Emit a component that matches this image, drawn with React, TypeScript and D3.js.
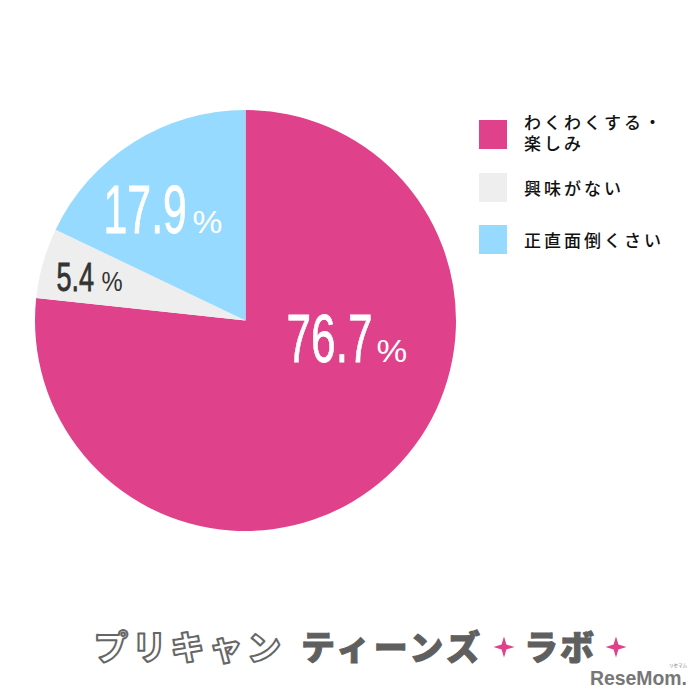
import React from 'react';
import * as d3 from 'd3';

const categories = ['わくわくする・楽しみ', '興味がない', '正直面倒くさい'];
const values = [76.7, 5.4, 17.9];
const colors = ['#e0418b', '#eeeeee', '#96dbff'];
const labelColors = ['#ffffff', '#333333', '#ffffff'];
const legendLines = [['わくわくする・', '楽しみ'], ['興味がない'], ['正直面倒くさい']];

const cx = 245.5;
const cy = 320.5;
const radius = 210.5;

const jpFont = '"Noto Sans CJK JP", sans-serif';
const numFont = '"Liberation Sans", sans-serif';

const starRadii = [10.5, 3.4, 10.5, 3.4, 10.5, 3.4, 10.5, 3.4];

// where each percentage sits, relative to the pie centre (sx = horizontal squeeze)
const labelPos = [
  { x: 41, y: 41.5, size: 68, sx: 0.65, px: 131, ps: 32, psx: 1.08 },
  { x: -189, y: -29.5, size: 41, sx: 0.66, px: -144, ps: 27, psx: 0.88 },
  { x: -142, y: -87.5, size: 68, sx: 0.63, px: -53, ps: 32, psx: 1.05 },
];

const App: React.FC = () => {
  const pie = d3.pie<number>().sort(null)(values);
  const arc = d3.arc<d3.PieArcDatum<number>>().innerRadius(0).outerRadius(radius);
  const star = d3.lineRadial<number>()
    .angle((_, i) => (i * Math.PI) / 4)
    .radius(d => d)
    .curve(d3.curveLinearClosed)(starRadii) as string;

  return (
    <svg width={700} height={700} style={{ position: 'absolute', left: 0, top: 0, background: '#fff' }}>
      <g transform={`translate(${cx},${cy})`}>
        {pie.map((d, i) => (
          <path key={categories[i]} d={arc(d) as string} fill={colors[i]} />
        ))}
        {values.map((v, i) => {
          const p = labelPos[i];
          return (
            <g key={v} fill={labelColors[i]} fontFamily={numFont}>
              <text transform={`translate(${p.x},${p.y}) scale(${p.sx},1)`} fontSize={p.size} stroke={labelColors[i]} strokeWidth={0.8}>{v.toFixed(1)}</text>
              <text transform={`translate(${p.px},${p.y}) scale(${p.psx},1)`} fontSize={p.ps}>%</text>
            </g>
          );
        })}
      </g>

      <g fontFamily={jpFont} fontSize={17} fontWeight={500} fill="#111" letterSpacing={3}>
        {legendLines.map((lines, i) => {
          const y = [135, 188, 240][i];
          return (
            <g key={categories[i]}>
              <rect x={479} y={y - 15} width={28} height={29} fill={colors[i]} />
              {lines.map((t, j) => (
                <text key={t} x={524} y={y + (lines.length > 1 ? j * 21 - 6 : 7)}>{t}</text>
              ))}
            </g>
          );
        })}
      </g>

      <g fontFamily={jpFont} fontSize={34} fontWeight={900} strokeLinejoin="round">
        <text x={94} y={660} fill="#fff" stroke="#666" strokeWidth={2} textLength={187}>プリキャン</text>
        <text x={301} y={660} fill="#5f5f5f" stroke="#5f5f5f" strokeWidth={1} textLength={179}>ティーンズ</text>
        <text x={524} y={660} fill="#5f5f5f" stroke="#5f5f5f" strokeWidth={1} textLength={70}>ラボ</text>
      </g>
      <path d={star} fill="#e0418b" transform="translate(504,647)" />
      <path d={star} fill="#e0418b" transform="translate(616,647)" />

      <text x={590} y={685} fontFamily={numFont} fontSize={21} fontWeight={700} fill="#777" textLength={97} lengthAdjust="spacingAndGlyphs">ReseMom.</text>
      <text x={678} y={667} textAnchor="middle" fontFamily={jpFont} fontSize={4.5} fill="#777">リセマム</text>
    </svg>
  );
};

export default App;
